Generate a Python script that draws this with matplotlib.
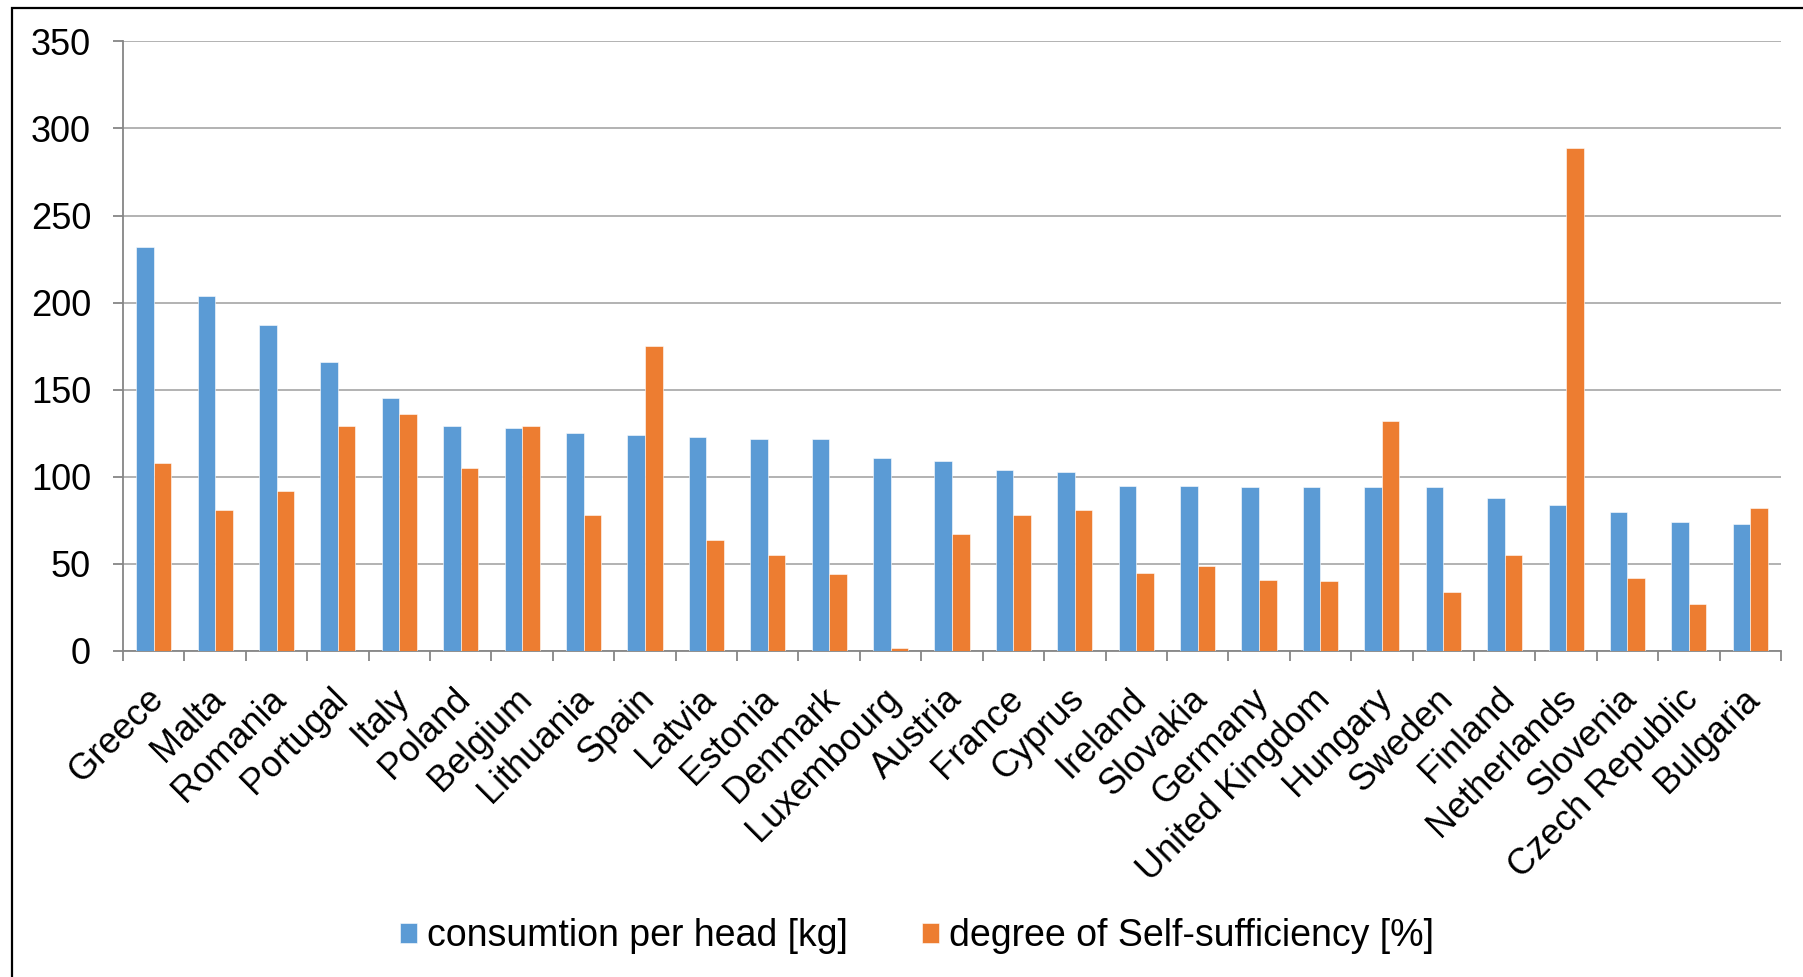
import matplotlib
matplotlib.use("Agg")
import matplotlib.pyplot as plt
import matplotlib.transforms as mtransforms
from matplotlib.patches import Rectangle
import numpy as np

plt.rcParams["font.family"] = ["Liberation Sans", "DejaVu Sans"]

countries = [
    "Greece", "Malta", "Romania", "Portugal", "Italy", "Poland", "Belgium",
    "Lithuania", "Spain", "Latvia", "Estonia", "Denmark", "Luxembourg",
    "Austria", "France", "Cyprus", "Ireland", "Slovakia", "Germany",
    "United Kingdom", "Hungary", "Sweden", "Finland", "Netherlands",
    "Slovenia", "Czech Republic", "Bulgaria",
]
consumption = [
    232, 204, 187, 166, 145, 129, 128, 125, 124, 123, 122, 122, 111, 109,
    104, 103, 95, 95, 94, 94, 94, 94, 88, 84, 80, 74, 73,
]
self_sufficiency = [
    108, 81, 92, 129, 136, 105, 129, 78, 175, 64, 55, 44, 2, 67, 78, 81,
    45, 49, 41, 40, 132, 34, 55, 289, 42, 27, 82,
]
y_ticks = [0, 50, 100, 150, 200, 250, 300, 350]

BLUE = "#5B9BD5"
ORANGE = "#ED7D31"
AXIS_GRAY = "#868686"
GRID_GRAY = "#ADADAD"
FS = 26

fig = plt.figure(figsize=(18.03, 9.77), dpi=100)
ax = fig.add_axes([123 / 1803, 1 - 651 / 977, (1781 - 123) / 1803, (651 - 41.4) / 977])

x = np.arange(len(countries))
bar_w = 1 / 3.5
ax.bar(x - bar_w / 2, consumption, width=bar_w, color=BLUE, edgecolor="white",
       linewidth=0.4, label="consumtion per head [kg]", zorder=3)
ax.bar(x + bar_w / 2, self_sufficiency, width=bar_w, color=ORANGE, edgecolor="white",
       linewidth=0.4, label="degree of Self-sufficiency [%]", zorder=3)

ax.set_xlim(-0.5, len(countries) - 0.5)
ax.set_ylim(0, 350)
ax.set_yticks(y_ticks)
ax.set_yticklabels([str(v) for v in y_ticks], fontsize=FS)
ax.yaxis.grid(True, color=GRID_GRAY, linewidth=1.3, zorder=0)
ax.set_axisbelow(True)

# category labels at centers, tick marks between categories
ax.set_xticks(x)
ax.set_xticklabels(countries, fontsize=FS, rotation=45, ha="right", va="top",
                   rotation_mode="anchor")
ax.set_xticks(np.arange(len(countries) + 1) - 0.5, minor=True)
ax.tick_params(axis="x", which="major", length=0, pad=22)
ax.tick_params(axis="x", which="minor", length=7, width=1.3, color=AXIS_GRAY, direction="out")
ax.tick_params(axis="y", length=7, width=1.3, color=AXIS_GRAY, pad=16)
shift = mtransforms.ScaledTranslation(-8 / 100, 0, fig.dpi_scale_trans)
for lbl in ax.get_xticklabels():
    lbl.set_transform(lbl.get_transform() + shift)

for side in ["top", "right"]:
    ax.spines[side].set_visible(False)
for side in ["left", "bottom"]:
    ax.spines[side].set_color(AXIS_GRAY)
    ax.spines[side].set_linewidth(1.3)

fig.legend(loc="center", bbox_to_anchor=(917 / 1803, 0.042), ncol=2, frameon=False,
           fontsize=27, handlelength=0.45, handleheight=0.45, handletextpad=0.25,
           columnspacing=2.0)

fig.add_artist(Rectangle((11.5 / 1803, -0.1), 1.2, 1.1 - 8 / 977, transform=fig.transFigure,
                         fill=False, edgecolor="black", linewidth=1.6))

fig.savefig("out.png", dpi=100)
